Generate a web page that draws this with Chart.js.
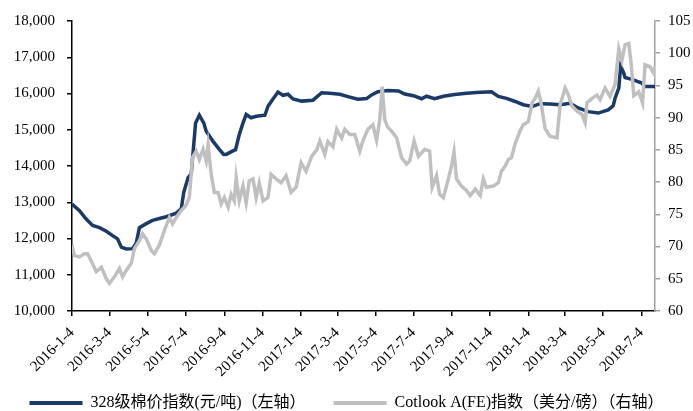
<!DOCTYPE html>
<html>
<head>
<meta charset="utf-8">
<script src="https://cdn.jsdelivr.net/npm/chart.js@4.4.0/dist/chart.umd.min.js"></script>
<style>
  html, body { margin: 0; padding: 0; background: #fff; }
</style>
</head>
<body>
<canvas id="chart" width="693" height="411"></canvas>
<script>
// x values are days counted from 2016-1-4
const tickDays = [0, 60, 121, 182, 244, 305, 366, 425, 486, 547, 609, 670, 731, 790, 851, 912];
const tickLabels = ['2016-1-4', '2016-3-4', '2016-5-4', '2016-7-4', '2016-9-4', '2016-11-4',
  '2017-1-4', '2017-3-4', '2017-5-4', '2017-7-4', '2017-9-4', '2017-11-4',
  '2018-1-4', '2018-3-4', '2018-5-4', '2018-7-4'];

// 328级棉价指数 (left axis)
const cottonDays = [0, 12, 22, 33, 44, 55, 65, 73, 79, 87, 97, 103, 108, 119, 129, 140, 151, 167, 175, 179,
  186, 191, 198, 204, 211, 215, 226, 236, 243, 247, 257, 262, 268, 274, 279, 287, 295, 309, 314, 322,
  330, 338, 346, 354, 368, 386, 400, 413, 429, 445, 458, 472, 480, 490, 506, 523, 533, 547, 560, 568,
  581, 595, 613, 632, 648, 672, 683, 696, 710, 723, 737, 750, 766, 782, 798, 811, 827, 843, 859, 867,
  870, 876, 879, 884, 886, 897, 913, 918, 934];
const cottonIndex = [12950, 12770, 12550, 12360, 12300, 12200, 12080, 11990, 11760, 11710, 11720, 11880, 12300, 12410, 12500, 12550, 12600, 12700, 12820, 13270,
  13680, 13780, 15190, 15400, 15190, 14960, 14680, 14460, 14320, 14320, 14410, 14450, 14870, 15190, 15420, 15330, 15370, 15400, 15650, 15850,
  16040, 15950, 15980, 15850, 15790, 15815, 16020, 16010, 15980, 15900, 15840, 15860, 15960, 16050, 16080, 16070, 15985, 15940, 15855, 15925,
  15855, 15925, 15975, 16010, 16030, 16045, 15920, 15865, 15780, 15690, 15640, 15720, 15710, 15690, 15730, 15600, 15500, 15460, 15550, 15660,
  15870, 16150, 16750, 16560, 16440, 16390, 16290, 16190, 16190];

// Cotlook A(FE) 指数 (right axis)
const cotlookDays = [0, 4, 12, 20, 25, 30, 39, 47, 55, 60, 68, 76, 81, 87, 95, 100, 108, 113, 119, 127,
  132, 140, 148, 156, 161, 167, 175, 182, 188, 193, 199, 204, 210, 215, 218, 223, 228, 234, 239, 244,
  250, 255, 260, 263, 268, 274, 279, 284, 290, 295, 300, 306, 314, 319, 327, 335, 343, 351, 359, 367,
  375, 384, 392, 397, 405, 410, 418, 424, 432, 437, 445, 453, 461, 466, 474, 482, 488, 493, 497, 501,
  506, 512, 520, 528, 536, 541, 548, 555, 565, 573, 577, 584, 589, 595, 603, 608, 612, 616, 624, 632,
  638, 646, 654, 659, 664, 675, 683, 688, 694, 699, 704, 710, 718, 723, 731, 737, 742, 747, 751, 758,
  766, 777, 782, 790, 795, 801, 809, 817, 822, 825, 833, 841, 846, 854, 862, 870, 876, 881, 886, 892,
  896, 900, 908, 914, 918, 926, 932, 934];
const cotlookIndex = [70.2, 68.6, 68.4, 68.9, 68.9, 67.9, 66.1, 66.8, 65.0, 64.3, 65.3, 66.6, 65.3, 66.3, 67.4, 69.7, 70.9, 72.0, 71.2, 69.4,
  68.9, 70.2, 72.5, 74.5, 73.5, 74.5, 75.6, 76.3, 77.6, 83.8, 84.8, 83.5, 85.1, 83.3, 85.8, 81.2, 78.4, 78.4, 76.6, 77.6,
  76.1, 78.1, 77.1, 80.7, 77.1, 79.4, 76.8, 80.2, 80.5, 77.6, 79.9, 77.1, 77.6, 81.2, 80.5, 79.9, 81.0, 78.4, 79.2, 83.0,
  81.7, 84.0, 85.0, 86.4, 84.3, 86.3, 85.5, 88.2, 86.8, 88.2, 87.4, 87.4, 84.8, 86.4, 88.2, 88.9, 86.5, 89.7, 94.8, 89.7,
  88.5, 87.9, 86.9, 83.8, 82.8, 83.3, 86.4, 84.0, 85.1, 84.8, 79.2, 81.0, 78.1, 77.6, 80.5, 82.5, 84.7, 80.5, 79.4, 78.7,
  77.9, 78.9, 77.9, 80.5, 79.2, 79.4, 79.9, 81.7, 82.5, 83.5, 83.8, 86.0, 88.0, 88.9, 89.4, 92.3, 93.0, 94.1, 92.5, 88.3,
  87.1, 86.9, 92.0, 94.6, 93.6, 91.8, 91.0, 90.5, 89.2, 92.3, 93.0, 93.5, 92.8, 94.6, 93.3, 95.1, 100.7, 98.9, 101.3, 101.5,
  98.2, 93.4, 94.0, 92.3, 98.2, 97.9, 96.9, 98.0];

const serif = "'Liberation Serif', 'Times New Roman', 'Noto Sans CJK SC', serif";
const navy = '#1b3a67';
const grey = '#c0c0c0';

const ctx = document.getElementById('chart').getContext('2d');
new Chart(ctx, {
  type: 'line',
  data: {
    datasets: [
      {
        label: '328级棉价指数(元/吨)（左轴）',
        data: cottonDays.map((d, i) => ({ x: d, y: cottonIndex[i] })),
        yAxisID: 'y',
        borderColor: navy,
        backgroundColor: navy,
        borderWidth: 3.5,
        pointRadius: 0,
        tension: 0,
        order: 1
      },
      {
        label: 'Cotlook A(FE)指数（美分/磅）（右轴）',
        data: cotlookDays.map((d, i) => ({ x: d, y: cotlookIndex[i] })),
        yAxisID: 'y1',
        borderColor: grey,
        backgroundColor: grey,
        borderWidth: 3.5,
        pointRadius: 0,
        tension: 0,
        order: 0
      }
    ]
  },
  options: {
    responsive: false,
    animation: false,
    devicePixelRatio: 1,
    layout: { padding: { top: 19, left: 0, right: 0, bottom: 0 } },
    scales: {
      x: {
        type: 'linear',
        min: 0,
        max: 934,
        afterBuildTicks: axis => { axis.ticks = tickDays.map(v => ({ value: v })); },
        afterFit: axis => {
          axis.height = 56;
          // let the rotated labels run into the legend band instead of being clipped
          axis._computeLabelArea = () => undefined;
        },
        ticks: {
          autoSkip: false,
          minRotation: 45,
          maxRotation: 45,
          padding: 8,
          color: '#000',
          font: { family: serif, size: 15 },
          callback: (v, i) => tickLabels[i]
        },
        grid: { drawOnChartArea: false, tickLength: 5, color: '#000', lineWidth: 1.5 },
        border: { color: '#000', width: 1.5 }
      },
      y: {
        position: 'left',
        min: 10000,
        max: 18000,
        afterFit: axis => { axis.width = 72; },
        ticks: {
          stepSize: 1000,
          padding: 12,
          color: '#000',
          font: { family: serif, size: 15 },
          callback: v => v.toLocaleString('en-US')
        },
        grid: { drawOnChartArea: false, tickLength: 5, color: '#000', lineWidth: 1.5 },
        border: { color: '#000', width: 1.5 }
      },
      y1: {
        position: 'right',
        min: 60,
        max: 105,
        afterFit: axis => { axis.width = 38; },
        ticks: {
          stepSize: 5,
          padding: 8,
          color: '#000',
          font: { family: serif, size: 15 }
        },
        grid: { drawOnChartArea: false, tickLength: 5, color: '#a0a0a0', lineWidth: 1.5 },
        border: { color: '#a0a0a0', width: 1.5 }
      }
    },
    plugins: {
      tooltip: { enabled: false },
      legend: {
        position: 'bottom',
        maxHeight: 44,
        labels: {
          boxWidth: 53,
          boxHeight: 4,
          padding: 28,
          color: '#000',
          font: { family: serif, size: 16 },
          sort: (a, b) => a.datasetIndex - b.datasetIndex,
          generateLabels: chart => Chart.defaults.plugins.legend.labels.generateLabels(chart)
            .map(item => ({ ...item, lineWidth: 0 }))
        }
      }
    }
  }
});
</script>
</body>
</html>
